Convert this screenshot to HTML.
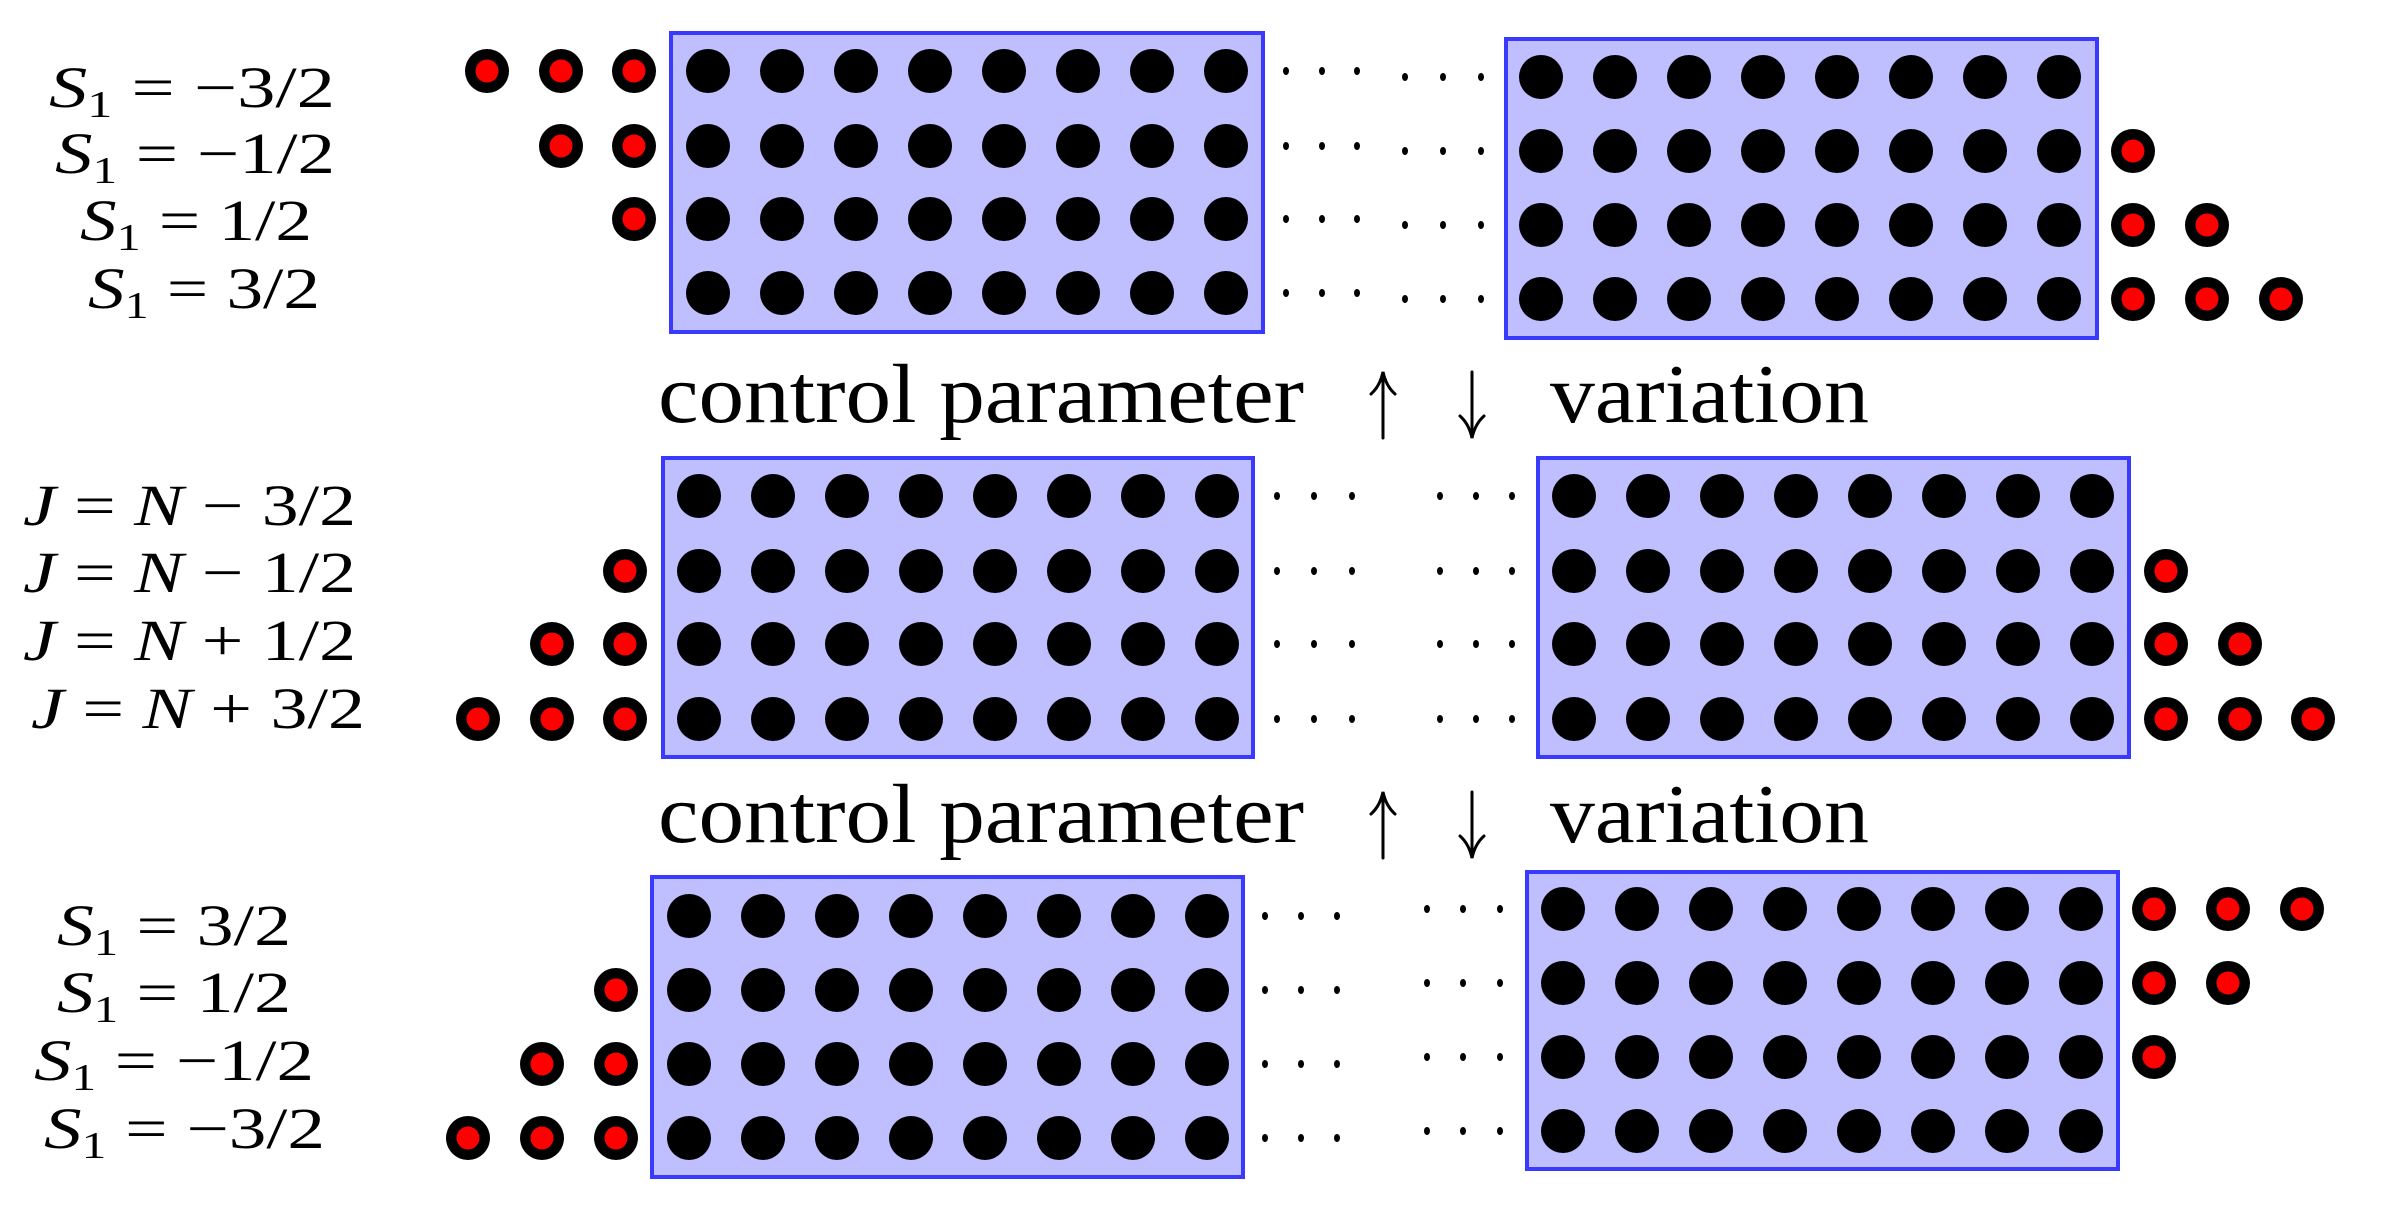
<!DOCTYPE html>
<html><head><meta charset="utf-8"><style>html,body{margin:0;padding:0;background:#fff}svg{display:block}</style></head>
<body>
<svg id="s" xmlns="http://www.w3.org/2000/svg" width="2392" height="1222" viewBox="0 0 2392 1222" font-family="Liberation Serif, serif">
<rect width="2392" height="1222" fill="#fff"/>
<g id="g"></g>
<g font-size="58" fill="#000">
<text x="49" y="107" textLength="286" lengthAdjust="spacingAndGlyphs"><tspan font-style="italic">S</tspan><tspan font-size="38" dy="10">1</tspan><tspan dy="-10"> = −3/2</tspan></text>
<text x="55" y="173" textLength="280" lengthAdjust="spacingAndGlyphs"><tspan font-style="italic">S</tspan><tspan font-size="38" dy="10">1</tspan><tspan dy="-10"> = −1/2</tspan></text>
<text x="80" y="240" textLength="232" lengthAdjust="spacingAndGlyphs"><tspan font-style="italic">S</tspan><tspan font-size="38" dy="10">1</tspan><tspan dy="-10"> = 1/2</tspan></text>
<text x="88" y="308" textLength="232" lengthAdjust="spacingAndGlyphs"><tspan font-style="italic">S</tspan><tspan font-size="38" dy="10">1</tspan><tspan dy="-10"> = 3/2</tspan></text>

<text x="23" y="525" textLength="333" lengthAdjust="spacingAndGlyphs"><tspan font-style="italic">J</tspan> = <tspan font-style="italic">N</tspan> − 3/2</text>
<text x="23" y="592" textLength="333" lengthAdjust="spacingAndGlyphs"><tspan font-style="italic">J</tspan> = <tspan font-style="italic">N</tspan> − 1/2</text>
<text x="23" y="660" textLength="333" lengthAdjust="spacingAndGlyphs"><tspan font-style="italic">J</tspan> = <tspan font-style="italic">N</tspan> + 1/2</text>
<text x="31" y="728" textLength="334" lengthAdjust="spacingAndGlyphs"><tspan font-style="italic">J</tspan> = <tspan font-style="italic">N</tspan> + 3/2</text>

<text x="57" y="945" textLength="234" lengthAdjust="spacingAndGlyphs"><tspan font-style="italic">S</tspan><tspan font-size="38" dy="10">1</tspan><tspan dy="-10"> = 3/2</tspan></text>
<text x="57" y="1012" textLength="234" lengthAdjust="spacingAndGlyphs"><tspan font-style="italic">S</tspan><tspan font-size="38" dy="10">1</tspan><tspan dy="-10"> = 1/2</tspan></text>
<text x="34" y="1080" textLength="280" lengthAdjust="spacingAndGlyphs"><tspan font-style="italic">S</tspan><tspan font-size="38" dy="10">1</tspan><tspan dy="-10"> = −1/2</tspan></text>
<text x="44" y="1148" textLength="281" lengthAdjust="spacingAndGlyphs"><tspan font-style="italic">S</tspan><tspan font-size="38" dy="10">1</tspan><tspan dy="-10"> = −3/2</tspan></text>
</g>
<g font-size="84" fill="#000">
<text x="658" y="422" textLength="646" lengthAdjust="spacingAndGlyphs">control parameter</text>
<text x="1550" y="422" textLength="319" lengthAdjust="spacingAndGlyphs">variation</text>
<text x="658" y="842" textLength="646" lengthAdjust="spacingAndGlyphs">control parameter</text>
<text x="1550" y="842" textLength="319" lengthAdjust="spacingAndGlyphs">variation</text>
</g>
<g stroke="#000" stroke-width="3" fill="none" stroke-linecap="round">
<path d="M1383 374 V438 M1371 394 Q1380 386 1383 372 Q1386 386 1395 394"/>
<path d="M1472 372 V436 M1460 416 Q1469 424 1472 438 Q1475 424 1484 416"/>
<path d="M1383 794 V858 M1371 814 Q1380 806 1383 792 Q1386 806 1395 814"/>
<path d="M1472 792 V856 M1460 836 Q1469 844 1472 858 Q1475 844 1484 836"/>
</g>
</svg>
<script>
(function(){
var g=document.getElementById('g'),h='';
function box(x1,y1,x2,y2){h+='<rect x="'+x1+'" y="'+y1+'" width="'+(x2-x1)+'" height="'+(y2-y1)+'" fill="#bfbfff" stroke="#3a3aff" stroke-width="4"/>';}
function blk(x,y){h+='<circle cx="'+x+'" cy="'+y+'" r="22" fill="#000"/>';}
function red(x,y){h+='<circle cx="'+x+'" cy="'+y+'" r="22" fill="#000"/><circle cx="'+x+'" cy="'+y+'" r="11.5" fill="#ff0000"/>';}
function dot(x,y){h+='<ellipse cx="'+x+'" cy="'+y+'" rx="3" ry="4" fill="#000"/>';}
function grid(c0,rows){rows.forEach(function(y){for(var i=0;i<8;i++)blk(c0+i*74,y);});}
function sec(b1,c1,r1,lx,lc,b2,c2,r2,rx,rc,d1,d2){
 box.apply(null,b1);grid(c1,r1);box.apply(null,b2);grid(c2,r2);
 r1.forEach(function(y,k){for(var i=0;i<lc[k];i++)red(lx[i],y);d1.forEach(function(x){dot(x,y);});});
 r2.forEach(function(y,k){for(var i=0;i<rc[k];i++)red(rx[i],y);d2.forEach(function(x){dot(x,y);});});
}
sec([671,33,1263,332],708,[71,146,219,293],[634,561,487],[3,2,1,0],
    [1506,39,2097,338],1541,[77,151,225,299],[2133,2207,2281],[0,1,2,3],[1286,1322,1357],[1405,1443,1481]);
sec([663,458,1253,757],699,[496,571,644,719],[625,552,478],[0,1,2,3],
    [1538,458,2129,757],1574,[496,571,644,719],[2166,2240,2313],[0,1,2,3],[1277,1314,1352],[1440,1476,1512]);
sec([652,877,1243,1177],689,[916,990,1064,1138],[616,542,468],[0,1,2,3],
    [1527,872,2118,1169],1563,[909,983,1057,1131],[2154,2228,2302],[3,2,1,0],[1265,1301,1337],[1427,1463,1500]);
g.innerHTML=h;
})();
</script>
</body></html>
